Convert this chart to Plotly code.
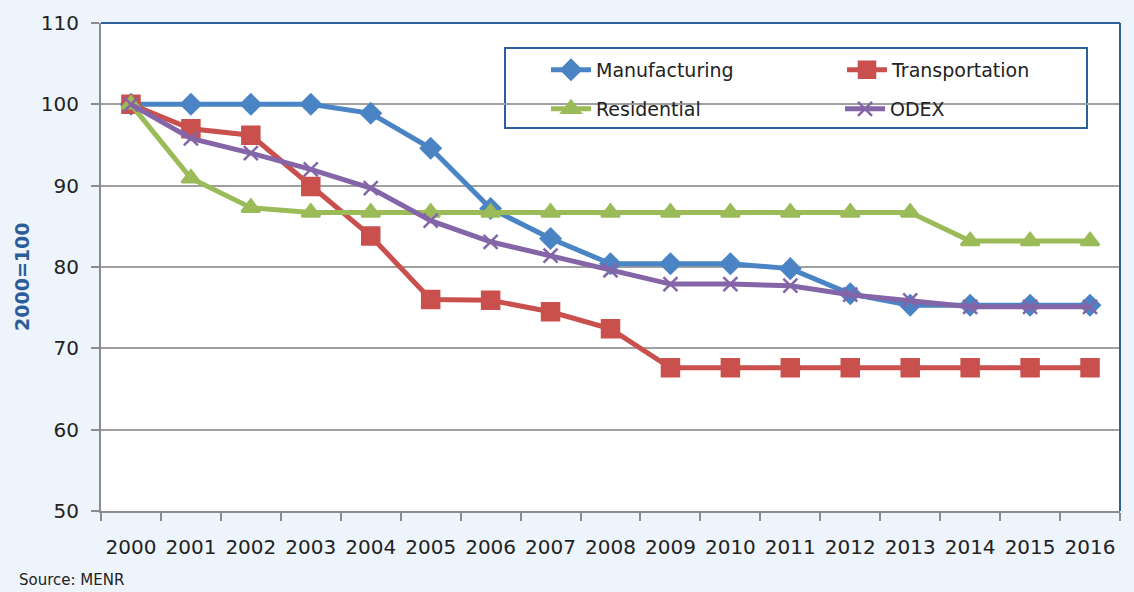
import plotly.graph_objects as go

years = [str(y) for y in range(2000, 2017)]

manufacturing = [100, 100, 100, 100, 98.9, 94.6, 87.2, 83.5, 80.4, 80.4, 80.4, 79.8, 76.7, 75.3, 75.3, 75.3, 75.3]
transportation = [100, 97.0, 96.2, 89.9, 83.8, 76.0, 75.9, 74.5, 72.4, 67.6, 67.6, 67.6, 67.6, 67.6, 67.6, 67.6, 67.6]
residential = [100, 90.9, 87.3, 86.7, 86.7, 86.7, 86.7, 86.7, 86.7, 86.7, 86.7, 86.7, 86.7, 86.7, 83.2, 83.2, 83.2]
odex = [100, 95.8, 94.0, 92.0, 89.7, 85.7, 83.1, 81.4, 79.6, 77.9, 77.9, 77.7, 76.6, 75.9, 75.1, 75.1, 75.1]

y_ticks = [50, 60, 70, 80, 90, 100, 110]

FONT = "DejaVu Sans"

# plot area in pixels: x 101..1120, y 23..511
PW, PH = 1019, 488


def px_x(x):
    return (x - 101) / PW


def px_y(y):
    return (511 - y) / PH


# (name, values, colour, marker symbol, marker size, legend id, legend x px, legend y px)
series = [
    ("Manufacturing", manufacturing, "#4a84c4", "diamond", 15, "legend", 546, 70),
    ("Transportation", transportation, "#c9504c", "square", 17, "legend2", 842, 70),
    ("Residential", residential, "#9bbb59", "triangle-up", 16, "legend3", 546, 109),
    ("ODEX", odex, "#8465a8", "x-thin-open", 14, "legend4", 840, 109),
]

fig = go.Figure()
legends = {}
for name, vals, color, symbol, size, leg, lx, ly in series:
    fig.add_trace(go.Scatter(
        x=years, y=vals, name=name, mode="lines+markers",
        line=dict(color=color, width=5),
        marker=dict(symbol=symbol, size=size, color=color,
                    line=dict(color=color, width=2.5)),
        legend=leg,
    ))
    legends[leg] = dict(
        x=px_x(lx), y=px_y(ly),
        xanchor="left", yanchor="middle",
        bgcolor="rgba(0,0,0,0)",
        font=dict(family=FONT, size=19, color="#222222"),
        itemwidth=40,
    )

fig.update_layout(
    width=1134, height=592,
    margin=dict(l=101, r=14, t=23, b=81),
    paper_bgcolor="#edf4fb",
    plot_bgcolor="#ffffff",
    font=dict(family=FONT, color="#222222"),
    showlegend=True,
    **legends,
    xaxis=dict(
        type="category",
        showgrid=False,
        showline=True, linecolor="#8c8c8c", linewidth=2,
        ticks="outside", ticklen=8, tickcolor="#8c8c8c", tickwidth=2,
        tickson="boundaries",
        tickangle=0,
        tickfont=dict(family=FONT, size=20, color="#222222"),
        ticklabelstandoff=17,
        range=[-0.5, 16.5],
    ),
    yaxis=dict(
        range=[50, 110],
        tickvals=y_ticks,
        showgrid=True, gridcolor="#a0a0a0", gridwidth=2,
        showline=True, linecolor="#8c8c8c", linewidth=2,
        ticks="outside", ticklen=8, tickcolor="#8c8c8c", tickwidth=2,
        tickfont=dict(family=FONT, size=20, color="#222222"),
        ticklabelstandoff=8,
        zeroline=False,
    ),
    shapes=[
        # top and right borders of the plotting area
        dict(type="line", xref="paper", yref="paper", x0=0, x1=1, y0=1, y1=1,
             line=dict(color="#2f5f9e", width=2)),
        dict(type="line", xref="paper", yref="paper", x0=1, x1=1, y0=0, y1=1,
             line=dict(color="#2f5f9e", width=2)),
        # legend frame
        dict(type="rect", xref="paper", yref="paper",
             x0=px_x(505), x1=px_x(1087),
             y0=px_y(128), y1=px_y(48),
             fillcolor="#ffffff", layer="below",
             line=dict(color="#2f5f9e", width=2)),
    ],
    annotations=[
        dict(text="<b>2000=100</b>", xref="paper", yref="paper",
             x=px_x(22), y=px_y(277), textangle=-90,
             xanchor="center", yanchor="middle", showarrow=False,
             font=dict(family=FONT, size=19, color="#2b5d9b")),
        dict(text="Source: MENR", xref="paper", yref="paper",
             x=px_x(17), y=px_y(580),
             xanchor="left", yanchor="middle", showarrow=False,
             font=dict(family=FONT, size=15, color="#222222")),
    ],
)

fig.write_html("out.html")
